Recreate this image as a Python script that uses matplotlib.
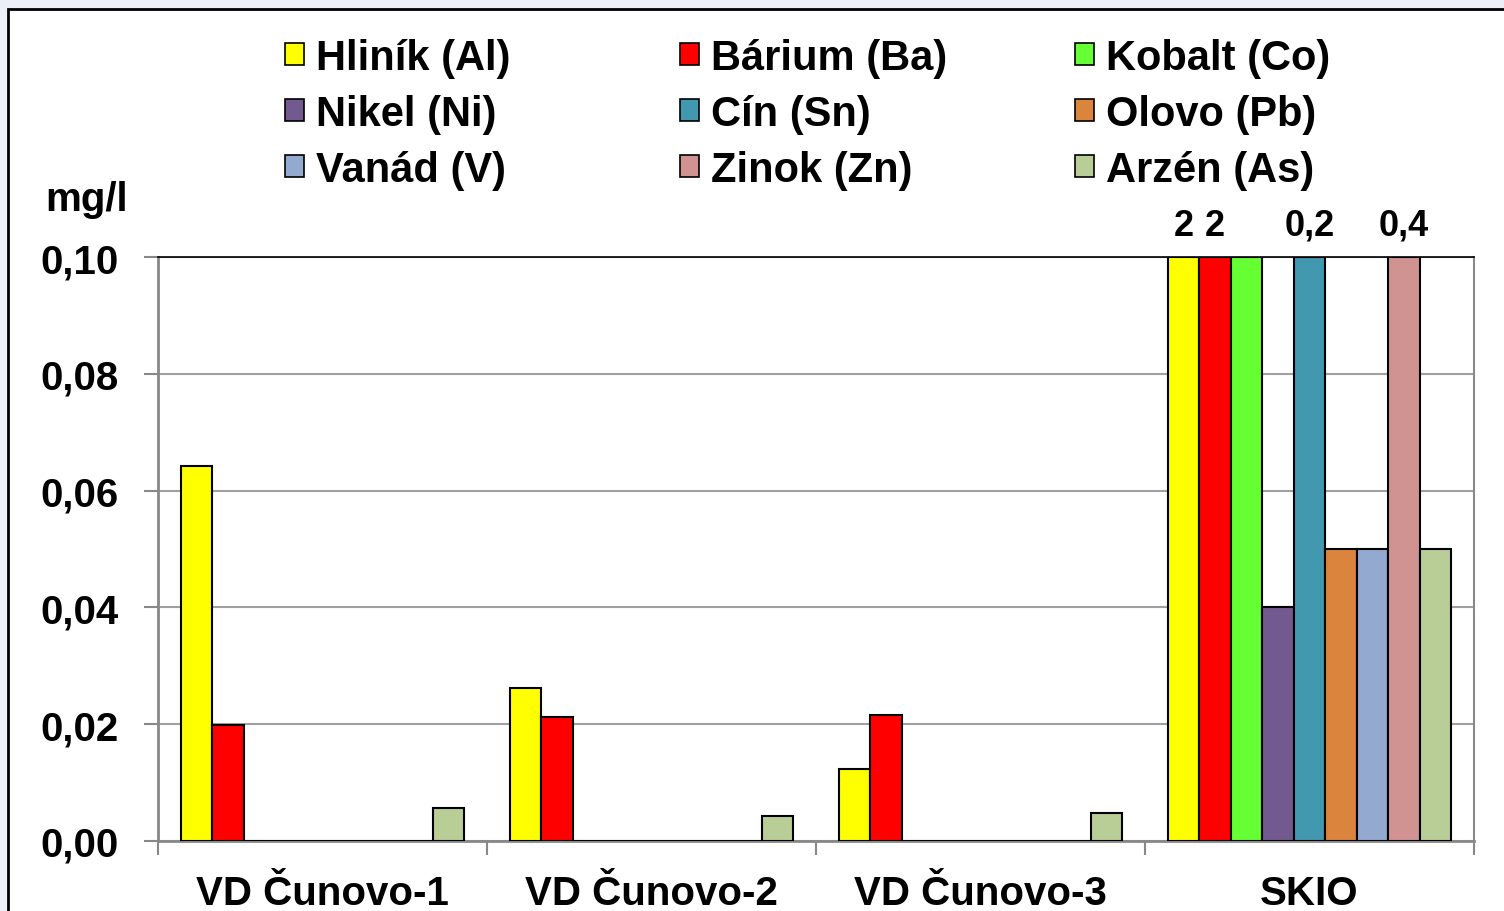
import numpy as np
import matplotlib.pyplot as plt
from matplotlib.patches import Patch, Rectangle

plt.rcParams['font.family'] = ['Liberation Sans', 'DejaVu Sans']
plt.rcParams['font.weight'] = 'bold'

sites = ["VD Čunovo-1", "VD Čunovo-2", "VD Čunovo-3", "SKIO"]
metals = ["Hliník (Al)", "Bárium (Ba)", "Kobalt (Co)",
          "Nikel (Ni)", "Cín (Sn)", "Olovo (Pb)",
          "Vanád (V)", "Zinok (Zn)", "Arzén (As)"]
colors = ["#FFFF00", "#FF0000", "#66FF33",
          "#725990", "#4198AF", "#DB843D",
          "#93A9CF", "#D19392", "#B9CD96"]

# one list per metal, one value per site (mg/l)
al = [0.0642, 0.0262, 0.0123, 2]
ba = [0.0199, 0.0212, 0.0216, 2]
co = [0, 0, 0, 0.1]
ni = [0, 0, 0, 0.04]
sn = [0, 0, 0, 0.2]
pb = [0, 0, 0, 0.05]
v = [0, 0, 0, 0.05]
zn = [0, 0, 0, 0.4]
ars = [0.0057, 0.0043, 0.0048, 0.05]
values = [al, ba, co, ni, sn, pb, v, zn, ars]

ymax = 0.10

fig = plt.figure(figsize=(15.04, 9.12), dpi=100)
fig.patch.set_facecolor("#ECEFF8")
frame = Rectangle((8/1504, -0.1), 1.2, 1 - 10/912 + 0.1,
                  transform=fig.transFigure, facecolor="white",
                  edgecolor="black", linewidth=2, zorder=-10)
fig.patches.append(frame)

ax = fig.add_axes([158/1504, 1 - 842/912, 1316/1504, 584/912])
ax.set_facecolor("white")

x = np.arange(len(sites))
n = len(metals)
w = 1 / (n + 1.46)
for i, (vals, c) in enumerate(zip(values, colors)):
    pos = x - w * n / 2 + w * (i + 0.5)
    shown = [min(val, ymax) for val in vals]
    ax.bar(pos, shown, width=w, color=c, edgecolor="black", linewidth=1.5, zorder=3)
    # bars cut at the top of the axis get their real value written above
    for p, val in zip(pos, vals):
        if val > ymax:
            ax.text(p, ymax + 0.0024, f"{val:g}".replace(".", ","), ha="center",
                    va="bottom", fontsize=26, fontweight="bold", clip_on=False)

ax.set_xlim(-0.5, len(sites) - 0.5)
ax.set_ylim(0, ymax)
ticks = np.arange(0, 0.101, 0.02)
ax.set_yticks(ticks)
ax.set_yticklabels([f"{t:.2f}".replace(".", ",") for t in ticks])
ax.yaxis.grid(True, color="#A0A0A0", linewidth=1.5, zorder=0)
ax.set_xticks(x)
ax.set_xticklabels(sites)
ax.set_xticks(np.arange(-0.5, len(sites)), minor=True)
ax.tick_params(axis="x", which="major", length=0, pad=24, labelsize=29)
ax.tick_params(axis="x", which="minor", length=10, width=1.5, color="#888888")
ax.tick_params(axis="y", length=10, width=1.5, color="#888888", pad=18, labelsize=29)

for s in ["left", "bottom"]:
    ax.spines[s].set_color("#888888")
    ax.spines[s].set_linewidth(2)
ax.spines["top"].set_color("black")
ax.spines["top"].set_linewidth(1.2)
ax.spines["right"].set_color("#888888")
ax.spines["right"].set_linewidth(1.5)

fig.text(87/1504, 1 - 200/912, "mg/l", ha="center", va="center", fontsize=29, fontweight="bold")

# legend laid out row-wise in three columns
col_x = [285, 680, 1075]
for col in range(3):
    handles = [Patch(facecolor=colors[r * 3 + col], edgecolor="black", linewidth=1.2)
               for r in range(3)]
    labels = [metals[r * 3 + col] for r in range(3)]
    fig.legend(handles, labels, loc="upper left",
               bbox_to_anchor=(col_x[col] / 1504, 1 - 39 / 912),
               frameon=False, fontsize=30, handlelength=0.45, handleheight=0.45,
               handletextpad=0.3, labelspacing=0.38, borderpad=0, borderaxespad=0)

fig.savefig("out.png", dpi=100, facecolor=fig.get_facecolor())
